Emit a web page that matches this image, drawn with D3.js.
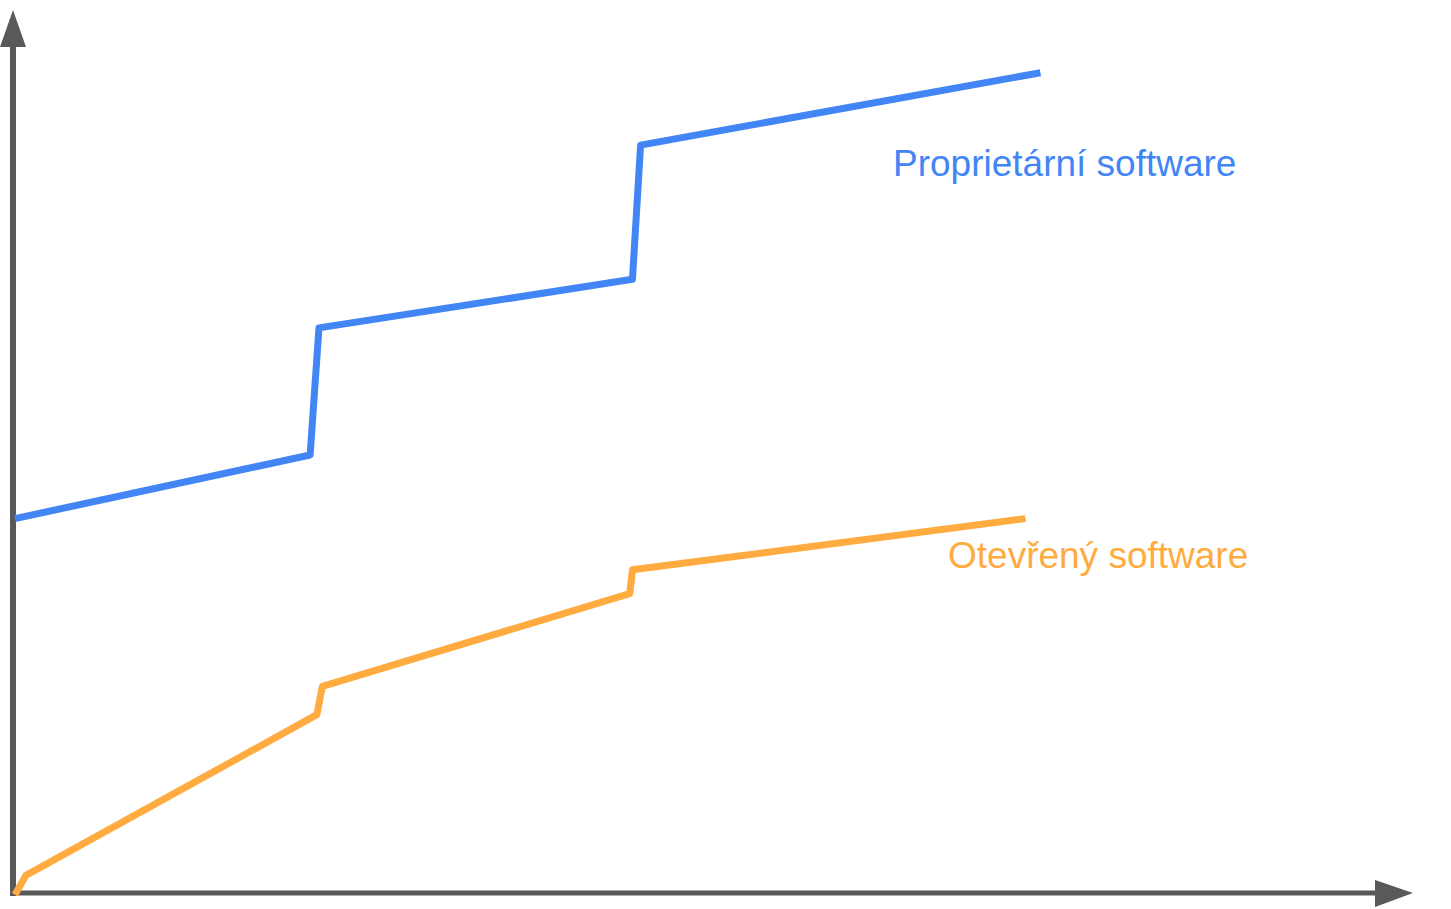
<!DOCTYPE html>
<html><head><meta charset="utf-8">
<script src="https://cdn.jsdelivr.net/npm/d3@7"></script>
<style>body{margin:0;background:#fff}svg{display:block}</style>
</head><body>
<script>
const propX = [0, 21.7, 22.35, 45.4, 46.0, 75.4];
const propY = [42.4, 49.6, 64.0, 69.5, 84.7, 92.9];
const openX = [0, 0.8, 22.2, 22.6, 45.2, 45.4, 74.3];
const openY = [-0.2, 2.0, 20.2, 23.4, 33.9, 36.6, 42.4];
const labels = ["Proprietární software", "Otevřený software"];

const W = 1451, H = 909;
const svg = d3.select("body").append("svg").attr("width", W).attr("height", H);
const x = d3.scaleLinear().domain([0, 100]).range([15, 1375]);
const y = d3.scaleLinear().domain([0, 100]).range([893, 10]);
const axisCol = "#595959";

// axes
svg.append("line").attr("x1", 13).attr("x2", 13).attr("y1", 896).attr("y2", 40)
  .attr("stroke", axisCol).attr("stroke-width", 6);
svg.append("path").attr("d", "M0,47 L13,10 L26,47 Z").attr("fill", axisCol);
svg.append("line").attr("x1", 10).attr("x2", 1380).attr("y1", 893).attr("y2", 893)
  .attr("stroke", axisCol).attr("stroke-width", 5);
svg.append("path").attr("d", "M1375,880 L1413,893 L1375,907 Z").attr("fill", axisCol);

const line = d3.line().x(d => x(d[0])).y(d => y(d[1]));
svg.append("path").datum(propX.map((v, i) => [v, propY[i]]))
  .attr("d", line).attr("fill", "none").attr("stroke", "#4285F4").attr("stroke-width", 7)
  .attr("stroke-linejoin", "round");
svg.append("path").datum(openX.map((v, i) => [v, openY[i]]))
  .attr("d", line).attr("fill", "none").attr("stroke", "#FFAB40").attr("stroke-width", 7)
  .attr("stroke-linejoin", "round");

svg.append("text").attr("x", 893).attr("y", 176).text(labels[0])
  .attr("fill", "#4285F4").style("font", "37px 'Liberation Sans', Arial, sans-serif");
svg.append("text").attr("x", 948).attr("y", 568).text(labels[1])
  .attr("fill", "#FFAB40").style("font", "37px 'Liberation Sans', Arial, sans-serif");
</script>
</body></html>
